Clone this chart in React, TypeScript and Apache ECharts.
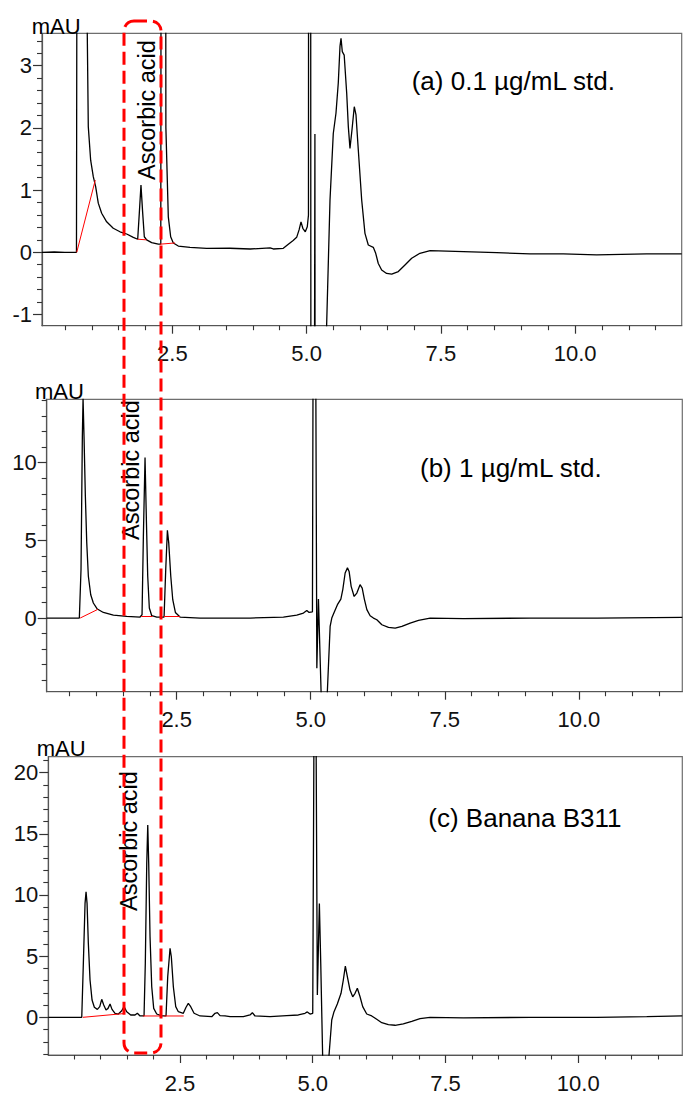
import React, { useEffect, useRef } from "react";
import * as echarts from "echarts";

const FONT = "'Liberation Sans', Arial, Helvetica, sans-serif";

// ---- tick values ----
const X_MAJOR = [2.5, 5, 7.5, 10];
const X_MINOR = [0.5, 1, 1.5, 2, 3, 3.5, 4, 4.5, 5.5, 6, 6.5, 7, 8, 8.5, 9, 9.5, 10.5, 11, 11.5];
const YA_MAJOR = [-1, 0, 1, 2, 3];
const YA_MINOR = [-0.8, -0.6, -0.4, -0.2, 0.2, 0.4, 0.6, 0.8, 1.2, 1.4, 1.6, 1.8, 2.2, 2.4, 2.6, 2.8, 3.2, 3.4];
const YB_MAJOR = [0, 5, 10];
const YB_MINOR = [-4, -3, -2, -1, 1, 2, 3, 4, 6, 7, 8, 9, 11, 12, 13, 14];
const YC_MAJOR = [0, 5, 10, 15, 20];
const YC_MINOR = [-3, -2, -1, 1, 2, 3, 4, 6, 7, 8, 9, 11, 12, 13, 14, 16, 17, 18, 19, 21];

// ---- chromatograms [time (min), mAU] ----
const TRACE_A: [number, number][] = [
  [0.073, 0], [0.3, 0.005], [0.5, 0], [0.715, 0], [0.725, 6], [0.735, 25], [0.9, 25], [0.916, 3.52],
  [0.935, 2.02], [0.979, 1.48], [1.028, 1.215], [1.072, 1.055], [1.121, 0.79], [1.184, 0.627],
  [1.277, 0.49], [1.4, 0.386], [1.525, 0.33], [1.65, 0.294], [1.773, 0.24], [1.855, 0.21],
  [1.885, 0.63], [1.916, 1.08], [1.948, 0.63], [1.978, 0.25], [2.022, 0.2], [2.115, 0.155],
  [2.238, 0.13], [2.285, 0.13], [2.31, 25], [2.355, 25], [2.38, 2.0], [2.425, 0.57], [2.469, 0.25],
  [2.518, 0.15], [2.611, 0.1], [2.83, 0.08], [3.14, 0.064], [3.57, 0.065], [3.95, 0.053], [4.32, 0.07],
  [4.38, 0.053], [4.566, 0.064], [4.66, 0.13], [4.75, 0.19], [4.815, 0.24], [4.86, 0.36], [4.896, 0.49],
  [4.93, 0.386], [4.976, 0.33], [5.013, 0.41], [5.035, 0.6], [5.045, 25], [5.065, 25], [5.09, -20],
  [5.11, -20], [5.155, 1.9], [5.17, -20], [5.2, -20], [5.31, -3.2], [5.436, 0.84], [5.497, 1.91],
  [5.547, 2.235], [5.59, 2.72], [5.622, 3.31], [5.641, 3.44], [5.665, 3.225], [5.7, 3.17], [5.747, 2.556],
  [5.777, 2.02], [5.808, 1.67], [5.845, 1.966], [5.888, 2.34], [5.92, 2.207], [5.963, 1.645], [6.026, 0.84],
  [6.087, 0.305], [6.149, 0.117], [6.242, 0.08], [6.287, -0.016], [6.335, -0.18], [6.398, -0.285],
  [6.49, -0.34], [6.585, -0.35], [6.708, -0.31], [6.832, -0.204], [6.957, -0.096], [7.11, -0.016],
  [7.3, 0.026], [7.92, 0.01], [8.54, -0.005], [9.16, -0.026], [9.78, -0.026], [10.4, -0.04],
  [11.33, -0.026], [11.985, -0.026],
];
const TRACE_B: [number, number][] = [
  [0.076, 0], [0.45, 0], [0.685, 0], [0.716, 3.12], [0.741, 11.7], [0.754, 14.15], [0.772, 11.7],
  [0.797, 7.85], [0.823, 4.84], [0.853, 2.69], [0.897, 1.5], [0.946, 0.97], [1.02, 0.58], [1.133, 0.36],
  [1.32, 0.19], [1.57, 0.11], [1.817, 0.065], [1.854, 0.21], [1.879, 5.27], [1.91, 10.33], [1.935, 6.34],
  [1.96, 2.69], [1.99, 0.645], [2.035, 0.15], [2.13, 0.065], [2.265, 0.065], [2.296, 3.12], [2.327, 5.65],
  [2.352, 4.84], [2.39, 2.69], [2.427, 1.18], [2.476, 0.36], [2.563, 0.065], [2.937, 0], [3.496, 0],
  [3.87, 0], [4.49, 0.065], [4.74, 0.19], [4.864, 0.32], [4.927, 0.49], [4.97, 0.36], [5.032, 0.4],
  [5.05, 25], [5.085, 25], [5.114, -3.23], [5.144, 1.22], [5.22, -8], [5.27, -8], [5.362, -0.54],
  [5.393, 0], [5.436, 0.36], [5.498, 0.86], [5.562, 1.22], [5.598, 1.83], [5.642, 2.9], [5.685, 3.23],
  [5.716, 3.0], [5.754, 2.04], [5.81, 1.39], [5.86, 1.61], [5.92, 2.15], [5.96, 1.93], [6.0, 1.22],
  [6.047, 0.54], [6.108, 0.15], [6.17, 0], [6.233, -0.11], [6.327, -0.43], [6.45, -0.6], [6.575, -0.65],
  [6.7, -0.54], [6.855, -0.32], [7.01, -0.15], [7.227, 0], [7.85, -0.04], [9.09, 0], [10.34, 0], [11.93, 0.04],
];
const TRACE_C: [number, number][] = [
  [0.02, 0], [0.367, 0], [0.65, 0], [0.68, 4.41], [0.712, 9.31], [0.731, 10.26], [0.75, 9.31],
  [0.774, 6.05], [0.806, 3.05], [0.844, 1.41], [0.887, 0.82], [0.944, 0.65], [0.989, 0.87], [1.026, 1.47],
  [1.064, 1.0], [1.107, 0.6], [1.145, 0.73], [1.183, 1.09], [1.22, 0.65], [1.277, 0.33], [1.34, 0.27],
  [1.403, 0.54], [1.446, 0.87], [1.497, 0.46], [1.572, 0.19], [1.653, 0.19], [1.697, 0.33], [1.748, 0.11],
  [1.823, 0.11], [1.847, 4.41], [1.874, 12.58], [1.893, 15.71], [1.911, 12.58], [1.936, 6.59], [1.968, 2.5],
  [2.005, 0.73], [2.062, 0.27], [2.156, 0.11], [2.237, 0.11], [2.269, 3.32], [2.313, 5.64], [2.337, 4.95],
  [2.375, 2.5], [2.42, 0.87], [2.469, 0.46], [2.563, 0.33], [2.614, 0.82], [2.657, 1.14], [2.702, 0.87],
  [2.765, 0.33], [2.878, 0.11], [3.098, 0.05], [3.16, 0.33], [3.204, 0.38], [3.254, 0.14], [3.348, 0.11],
  [3.443, 0.05], [3.693, 0.05], [3.819, 0.19], [3.863, 0.38], [3.913, 0.11], [4.196, 0.05], [4.51, 0.14],
  [4.729, 0.19], [4.855, 0.33], [4.898, 0.44], [4.949, 0.27], [5.0, 0.33], [5.03, 30], [5.055, 30],
  [5.087, 1.82], [5.125, 9.31], [5.151, 4.41], [5.2, -6], [5.255, -6], [5.358, -0.22], [5.401, 0.46],
  [5.463, 1.09], [5.533, 1.96], [5.576, 3.05], [5.614, 4.19], [5.652, 3.32], [5.702, 2.23], [5.753, 1.68],
  [5.797, 1.96], [5.84, 2.37], [5.891, 1.68], [5.941, 0.87], [6.017, 0.27], [6.111, 0.11], [6.205, -0.16],
  [6.3, -0.44], [6.424, -0.6], [6.55, -0.65], [6.706, -0.54], [6.865, -0.33], [7.02, -0.11], [7.209, 0],
  [7.836, -0.05], [9.09, 0], [10.35, 0], [11.29, 0.05], [11.96, 0.11],
];

// ---- integration baselines (red) ----
const BASE_A: [number, number][][] = [
  [[0.72, 0], [1.065, 1.16]],
  [[1.855, 0.21], [2.02, 0.2]],
  [[2.27, 0.13], [2.55, 0.15]],
];
const BASE_B: [number, number][][] = [
  [[0.7, 0], [1.03, 0.56]],
  [[1.84, 0.1], [2.05, 0.1]],
  [[2.265, 0.1], [2.56, 0.1]],
];
const BASE_C: [number, number][][] = [
  [[0.67, 0], [1.43, 0.3]],
  [[1.8, 0.11], [2.16, 0.11]],
  [[2.2, 0.11], [2.57, 0.11]],
];

const LABELS = ["(a) 0.1 µg/mL std.", "(b) 1 µg/mL std.", "(c) Banana B311"];
const PEAK_NAME = "Ascorbic acid";
const Y_UNIT = "mAU";

const PANELS = [
  {
    grid: { left: 42, top: 33.3, width: 639.7, height: 292.4 },
    xMin: 0.073, xMax: 11.985, yMin: -1.18, yMax: 3.52,
    yMajor: YA_MAJOR, yMinor: YA_MINOR, trace: TRACE_A, base: BASE_A,
    label: LABELS[0], labelPos: [411.7, 81], ascPos: [146.5, 110], unitPos: [31.7, 26],
  },
  {
    grid: { left: 46.7, top: 399.3, width: 635.6, height: 292.4 },
    xMin: 0.076, xMax: 11.93, yMin: -4.74, yMax: 14.08,
    yMajor: YB_MAJOR, yMinor: YB_MINOR, trace: TRACE_B, base: BASE_B,
    label: LABELS[1], labelPos: [420, 467.5], ascPos: [131, 470], unitPos: [35, 391.7],
  },
  {
    grid: { left: 48.3, top: 756.7, width: 634, height: 298.3 },
    xMin: 0.02, xMax: 11.96, yMin: -3.08, yMax: 21.3,
    yMajor: YC_MAJOR, yMinor: YC_MINOR, trace: TRACE_C, base: BASE_C,
    label: LABELS[2], labelPos: [428.3, 818], ascPos: [129, 841], unitPos: [36.7, 748],
  },
];

export default function App() {
  const ref = useRef<HTMLDivElement>(null);

  useEffect(() => {
    if (!ref.current) return;
    const chart = echarts.init(ref.current, undefined, { renderer: "svg" });

    const grid: any[] = [];
    const xAxis: any[] = [];
    const yAxis: any[] = [];
    const series: any[] = [];
    const graphic: any[] = [];

    PANELS.forEach((p, i) => {
      grid.push({ ...p.grid, show: true, borderColor: "#6e6e6e", borderWidth: 1.2, backgroundColor: "transparent" });
      const axisLine = { show: true, onZero: false, lineStyle: { color: "#555", width: 1.2 } };
      xAxis.push({
        type: "value", gridIndex: i, position: "bottom", min: p.xMin, max: p.xMax,
        axisLine,
        axisTick: { show: true, customValues: X_MAJOR, length: 8, lineStyle: { color: "#333", width: 1.2 } },
        axisLabel: {
          show: true, customValues: X_MAJOR, formatter: (v: number) => v.toFixed(1),
          fontSize: 22, fontFamily: FONT, color: "#111", margin: 17,
        },
        splitLine: { show: false },
      });
      xAxis.push({
        type: "value", gridIndex: i, position: "bottom", min: p.xMin, max: p.xMax,
        axisLine: { show: false, onZero: false },
        axisTick: { show: true, customValues: X_MINOR, length: 4.5, lineStyle: { color: "#333", width: 1.1 } },
        axisLabel: { show: false },
        splitLine: { show: false },
      });
      yAxis.push({
        type: "value", gridIndex: i, position: "left", min: p.yMin, max: p.yMax,
        axisLine,
        axisTick: { show: true, customValues: p.yMajor, length: 9, lineStyle: { color: "#333", width: 1.2 } },
        axisLabel: {
          show: true, customValues: p.yMajor, formatter: (v: number) => String(v),
          fontSize: 22, fontFamily: FONT, color: "#111", margin: 10,
        },
        splitLine: { show: false },
      });
      yAxis.push({
        type: "value", gridIndex: i, position: "left", min: p.yMin, max: p.yMax,
        axisLine: { show: false, onZero: false },
        axisTick: { show: true, customValues: p.yMinor, length: 5, lineStyle: { color: "#333", width: 1.1 } },
        axisLabel: { show: false },
        splitLine: { show: false },
      });

      series.push({
        type: "line", xAxisIndex: 2 * i, yAxisIndex: 2 * i, data: p.trace,
        showSymbol: false, symbol: "none", clip: true, silent: true,
        lineStyle: { color: "#000", width: 1.3 }, z: 2,
      });
      p.base.forEach((seg) => {
        series.push({
          type: "line", xAxisIndex: 2 * i, yAxisIndex: 2 * i, data: seg,
          showSymbol: false, symbol: "none", clip: true, silent: true,
          lineStyle: { color: "#ff0000", width: 1 }, z: 3,
        });
      });

      graphic.push({
        type: "text", x: p.labelPos[0], y: p.labelPos[1], z: 50,
        style: { text: p.label, fontSize: 26, fontFamily: FONT, fill: "#000", align: "left", verticalAlign: "middle" },
      });
      graphic.push({
        type: "text", x: p.ascPos[0], y: p.ascPos[1], rotation: Math.PI / 2, z: 50,
        style: { text: PEAK_NAME, fontSize: 23.5, fontFamily: FONT, fill: "#000", align: "center", verticalAlign: "middle" },
      });
      graphic.push({
        type: "text", x: p.unitPos[0], y: p.unitPos[1], z: 50,
        style: { text: Y_UNIT, fontSize: 22, fontFamily: FONT, fill: "#000", align: "left", verticalAlign: "middle" },
      });
    });

    graphic.push({
      type: "rect", z: 100,
      shape: { x: 124, y: 21, width: 37, height: 1032, r: 10 },
      style: { fill: "transparent", stroke: "#ff0000", lineWidth: 3, lineDash: [13, 6] },
    });

    chart.setOption({
      animation: false,
      backgroundColor: "#fff",
      grid, xAxis, yAxis, series, graphic,
    });

    return () => chart.dispose();
  }, []);

  return (
    <div
      ref={ref}
      style={{ position: "fixed", left: 0, top: 0, width: 683, height: 1095, background: "#fff" }}
    />
  );
}
